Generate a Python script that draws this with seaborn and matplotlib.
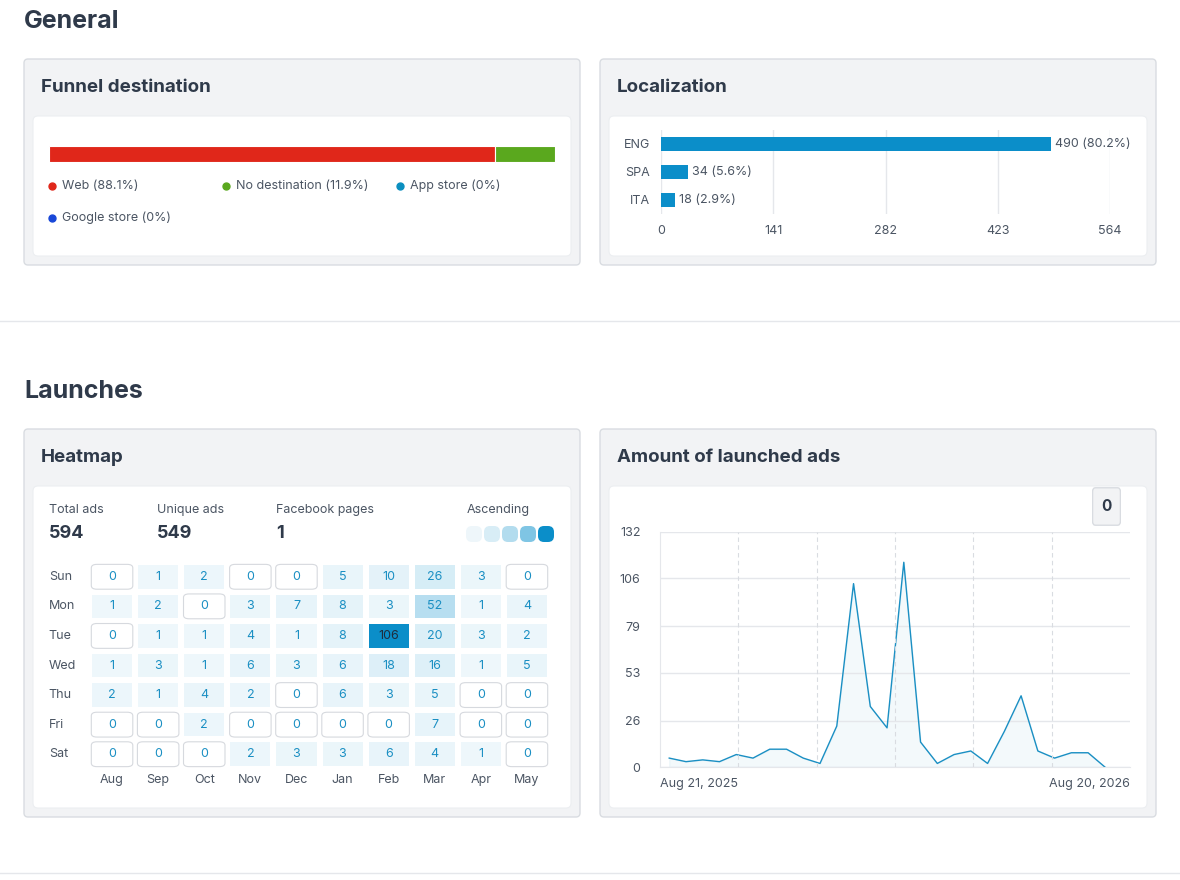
import numpy as np
import pandas as pd
import seaborn as sns
import matplotlib.pyplot as plt
from matplotlib.patches import FancyBboxPatch
from matplotlib.colors import LinearSegmentedColormap, PowerNorm

# data
funnel_labels = ["Web (88.1%)", "No destination (11.9%)", "App store (0%)", "Google store (0%)"]
funnel_shares = [88.1, 11.9, 0, 0]
funnel_colors = ["#e0271a", "#5aa81e", "#0b8fc0", "#1847d8"]

lang_labels = ["ENG", "SPA", "ITA"]
lang_counts = [490, 34, 18]
lang_pct = ["80.2%", "5.6%", "2.9%"]
lang_ticks = [0, 141, 282, 423, 564]

days = ["Sun", "Mon", "Tue", "Wed", "Thu", "Fri", "Sat"]
months = ["Aug", "Sep", "Oct", "Nov", "Dec", "Jan", "Feb", "Mar", "Apr", "May"]
heat = [
    [0, 1, 2, 0, 0, 5, 10, 26, 3, 0],
    [1, 2, 0, 3, 7, 8, 3, 52, 1, 4],
    [0, 1, 1, 4, 1, 8, 106, 20, 3, 2],
    [1, 3, 1, 6, 3, 6, 18, 16, 1, 5],
    [2, 1, 4, 2, 0, 6, 3, 5, 0, 0],
    [0, 0, 2, 0, 0, 0, 0, 7, 0, 0],
    [0, 0, 0, 2, 3, 3, 6, 4, 1, 0],
]
stats = [("Total ads", "594"), ("Unique ads", "549"), ("Facebook pages", "1")]

launched = [5, 3, 4, 3, 7, 5, 10, 10, 5, 2, 23, 103, 34, 22, 115, 14, 2, 7, 9, 2,
            20, 40, 9, 5, 8, 8, 0]
line_yticks = [0, 26, 53, 79, 106, 132]
date_labels = ["Aug 21, 2025", "Aug 20, 2026"]

W, H = 1180, 880
DARK = "#2f3a4a"
GREY = "#4b5563"
BLUE = "#0b8ec9"
plt.rcParams['font.family'] = ['Inter', 'DejaVu Sans']

fig = plt.figure(figsize=(W / 100, H / 100), dpi=100)
bg = fig.add_axes([0, 0, 1, 1], zorder=0)
bg.set_xlim(0, W)
bg.set_ylim(H, 0)
bg.axis("off")


def px_axes(x, y, w, h):
    return fig.add_axes([x / W, 1 - (y + h) / H, w / W, h / H], zorder=2)


def panel(x, y, w, h, title, ih):
    bg.add_patch(FancyBboxPatch((x, y), w, h, boxstyle="round,pad=0,rounding_size=4",
                                fc="#f2f3f5", ec="#d9dce1", lw=1))
    bg.add_patch(FancyBboxPatch((x + 9, y + 57), w - 18, ih, boxstyle="round,pad=0,rounding_size=5",
                                fc="white", ec="#eceef1", lw=0.8))
    bg.text(x + 17, y + 28, title, fontsize=13.5, fontweight="bold", color=DARK, va="center")


bg.text(24, 22, "General", fontsize=18, fontweight="bold", color=DARK, va="center")
bg.text(24, 392, "Launches", fontsize=18, fontweight="bold", color=DARK, va="center")
bg.plot([0, W], [321, 321], color="#e5e7eb", lw=1)
bg.plot([0, W], [873, 873], color="#e5e7eb", lw=1)

panel(24, 59, 556, 206, "Funnel destination", 140)
panel(600, 59, 556, 206, "Localization", 140)
panel(24, 429, 556, 388, "Heatmap", 322)
panel(600, 429, 556, 388, "Amount of launched ads", 322)

# funnel bar
ax = px_axes(49, 146, 506, 16)
left = 0
for s, c in zip(funnel_shares, funnel_colors):
    if s > 0:
        ax.barh(0.5, s, left=left, height=1, color=c, edgecolor="white", lw=0.8)
    left += s
ax.set_xlim(0, 100)
ax.set_ylim(0, 1)
ax.axis("off")
leg_pos = [(52, 186), (226, 186), (400, 186), (52, 218)]
for (lx, ly), lab, c in zip(leg_pos, funnel_labels, funnel_colors):
    bg.plot(lx, ly, "o", ms=5, color=c)
    bg.text(lx + 10, ly, lab, fontsize=9, color=GREY, va="center")

# localization
ax = px_axes(661, 130, 449, 84)
df_lang = pd.DataFrame({"lang": lang_labels, "n": lang_counts})
sns.barplot(data=df_lang, y="lang", x="n", color=BLUE, saturation=1, width=0.5, ax=ax, zorder=3)
for i, (n, pc) in enumerate(zip(lang_counts, lang_pct)):
    ax.text(n + 5, i, f"{n} ({pc})", va="center", fontsize=9, color=GREY)
ax.set_xlim(0, 564)
ax.set_xticks(lang_ticks)
ax.grid(axis="x", color="#e5e7eb", lw=1)
ax.set_axisbelow(True)
for s in ax.spines.values():
    s.set_visible(False)
ax.tick_params(length=0, labelsize=9, colors=GREY, pad=8)
ax.set_xlabel("")
ax.set_ylabel("")

# heatmap stats
for (lab, val), sx in zip(stats, [49, 157, 276]):
    bg.text(sx, 510, lab, fontsize=9, color=GREY, va="center")
    bg.text(sx, 534, val, fontsize=13, fontweight="bold", color=DARK, va="center")
bg.text(467, 510, "Ascending", fontsize=9, color=GREY, va="center")
for i, c in enumerate(["#eef6fa", "#d8edf6", "#b3dcee", "#7fc5e4", BLUE]):
    bg.add_patch(FancyBboxPatch((466 + i * 18, 526), 16, 16, boxstyle="round,pad=0,rounding_size=6",
                                fc=c, ec="none"))

cmap = LinearSegmentedColormap.from_list("asc", ["#eef7fb", "#d5ecf6", "#a9d8ed", BLUE])
heat_arr = np.array(heat)
ax = px_axes(89, 562, 461, 207)
sns.heatmap(heat_arr, mask=heat_arr == 0, cmap=cmap, norm=PowerNorm(0.8, vmin=1, vmax=106),
            cbar=False, linewidths=3, linecolor="white", annot=True, fmt="d",
            annot_kws={"fontsize": 9, "color": "#1a8fc3"}, ax=ax)
for t in ax.texts:
    if t.get_text() == "106":
        t.set_color("#1f2d3d")
for r in range(heat_arr.shape[0]):
    for c in range(heat_arr.shape[1]):
        if heat_arr[r, c] == 0:
            ax.add_patch(FancyBboxPatch((c + 0.05, r + 0.08), 0.9, 0.84,
                                        boxstyle="round,pad=0,rounding_size=0.12",
                                        fc="white", ec="#d6d9de", lw=0.8))
            ax.text(c + 0.5, r + 0.5, "0", ha="center", va="center", fontsize=9, color="#1a8fc3")
ax.set_xticklabels(months, rotation=0)
ax.set_yticklabels(days, rotation=0)
ax.tick_params(length=0, labelsize=9, colors=GREY)
ax.tick_params(axis="y", pad=29)
for lab in ax.get_yticklabels():
    lab.set_horizontalalignment("left")
ax.set_xlabel("")
ax.set_ylabel("")

# line chart
ax = px_axes(660, 532, 470, 235)
df_line = pd.DataFrame({"i": np.arange(len(launched)), "n": launched})
sns.lineplot(data=df_line, x="i", y="n", color="#1a8fc3", lw=1, ax=ax)
ax.fill_between(df_line["i"], df_line["n"], color="#1a8fc3", alpha=0.05)
xr = len(launched) - 1 + 1.5
ax.set_xlim(-0.55, xr)
ax.set_ylim(0, 132)
ax.set_yticks(line_yticks)
ax.set_xticks([-0.55, xr])
ax.set_xticklabels(date_labels)
ax.get_xticklabels()[0].set_horizontalalignment("left")
ax.get_xticklabels()[1].set_horizontalalignment("right")
ax.grid(axis="y", color="#e5e7eb", lw=1)
for xv in np.linspace(-0.55, xr, 7)[1:-1]:
    ax.axvline(xv, color="#d9dce1", lw=0.8, ls=(0, (4, 3)))
for s in ["top", "right"]:
    ax.spines[s].set_visible(False)
ax.spines["left"].set_color("#e5e7eb")
ax.spines["bottom"].set_color("#e5e7eb")
ax.tick_params(length=0, labelsize=9, colors=GREY, pad=8)
ax.tick_params(axis="y", pad=14)
ax.set_xlabel("")
ax.set_ylabel("")
badge = fig.add_axes([1092 / W, 1 - 526 / H, 29 / W, 39 / H], zorder=5)
badge.axis("off")
badge.add_patch(FancyBboxPatch((0.02, 0.02), 0.96, 0.96, boxstyle="round,pad=0,rounding_size=0.1",
                               fc="#f2f3f5", ec="#d9dce1", lw=1, transform=badge.transAxes))
badge.text(0.5, 0.5, "0", fontsize=11, fontweight="bold", color=DARK, ha="center", va="center")

fig.savefig("out.png", dpi=100)
